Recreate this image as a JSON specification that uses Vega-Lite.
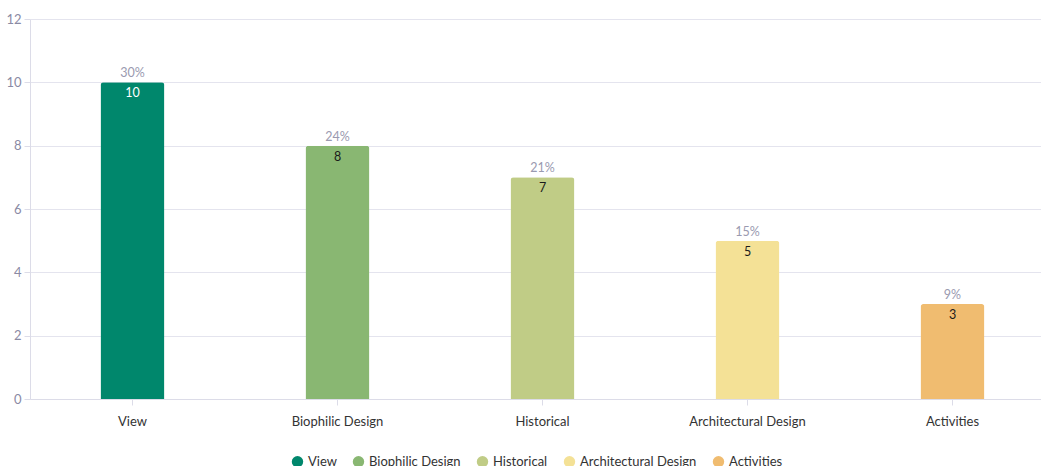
{
  "$schema": "https://vega.github.io/schema/vega-lite/v6.json",
  "width": 1025,
  "height": 380,
  "autosize": {"type": "none"},
  "padding": {"left": 30, "top": 19, "right": 0, "bottom": 67},
  "background": "white",
  "config": {
    "font": "Lato",
    "view": {"stroke": null}
  },
  "data": {
    "values": [
      {"category": "View", "count": 10, "pct": "30%"},
      {"category": "Biophilic Design", "count": 8, "pct": "24%"},
      {"category": "Historical", "count": 7, "pct": "21%"},
      {"category": "Architectural Design", "count": 5, "pct": "15%"},
      {"category": "Activities", "count": 3, "pct": "9%"}
    ]
  },
  "encoding": {
    "x": {
      "field": "category",
      "type": "nominal",
      "sort": null,
      "scale": {"paddingInner": 0, "paddingOuter": 0},
      "axis": {
        "title": null,
        "labelAngle": 0,
        "labelFontSize": 13,
        "labelColor": "#333333",
        "labelPadding": 10,
        "tickSize": 6,
        "tickColor": "#dcdce8",
        "domainColor": "#dcdce8",
        "grid": false
      }
    },
    "y": {
      "field": "count",
      "type": "quantitative",
      "scale": {"domain": [0, 12], "nice": false},
      "axis": {
        "title": null,
        "values": [0, 2, 4, 6, 8, 10, 12],
        "labelFontSize": 13,
        "labelColor": "#8a8aa4",
        "labelPadding": 3,
        "tickSize": 6,
        "tickColor": "#dcdce8",
        "domainColor": "#dcdce8",
        "gridColor": "#e4e4ee"
      }
    }
  },
  "layer": [
    {
      "mark": {"type": "bar", "size": 64, "cornerRadiusTopLeft": 3, "cornerRadiusTopRight": 3},
      "encoding": {
        "color": {
          "field": "category",
          "type": "nominal",
          "sort": null,
          "scale": {
            "domain": ["View", "Biophilic Design", "Historical", "Architectural Design", "Activities"],
            "range": ["#00876c", "#89b772", "#c0cc86", "#f4e196", "#f0bc70"]
          },
          "legend": {
            "title": null,
            "orient": "none",
            "direction": "horizontal",
            "legendX": 261,
            "legendY": 436,
            "symbolType": "circle",
            "symbolSize": 130,
            "labelFontSize": 13,
            "labelColor": "#333333",
            "columnPadding": 15,
            "symbolOffset": 0
          }
        }
      }
    },
    {
      "mark": {"type": "text", "dy": -9, "fontSize": 12.5, "color": "#9a9ab0"},
      "encoding": {"text": {"field": "pct"}}
    },
    {
      "mark": {"type": "text", "dy": 11, "fontSize": 12.5},
      "encoding": {
        "text": {"field": "count"},
        "color": {"condition": {"test": "datum.category === 'View'", "value": "#ffffff"}, "value": "#1a1a1a"}
      }
    }
  ]
}
